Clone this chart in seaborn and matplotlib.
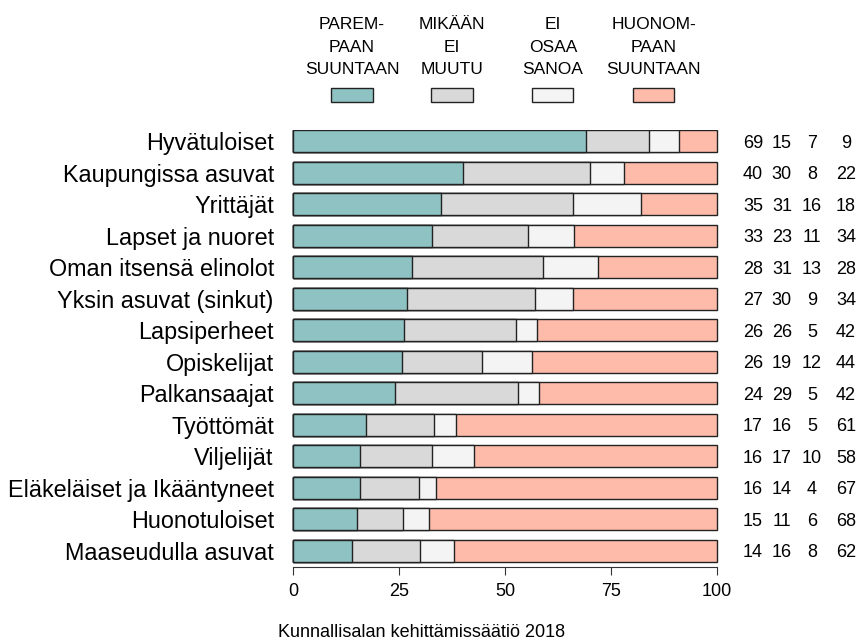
import numpy as np
import pandas as pd
import matplotlib
matplotlib.use("Agg")
import matplotlib.pyplot as plt
import matplotlib.transforms as mtransforms
from matplotlib.patches import Rectangle
import seaborn as sns

categories = ["Hyvätuloiset", "Kaupungissa asuvat", "Yrittäjät", "Lapset ja nuoret",
              "Oman itsensä elinolot", "Yksin asuvat (sinkut)", "Lapsiperheet",
              "Opiskelijat", "Palkansaajat", "Työttömät", "Viljelijät",
              "Eläkeläiset ja Ikääntyneet", "Huonotuloiset", "Maaseudulla asuvat"]
better = [69, 40, 35, 33, 28, 27, 26, 26, 24, 17, 16, 16, 15, 14]
same = [15, 30, 31, 23, 31, 30, 26, 19, 29, 16, 17, 14, 11, 16]
dont_know = [7, 8, 16, 11, 13, 9, 5, 12, 5, 5, 10, 4, 6, 8]
worse = [9, 22, 18, 34, 28, 34, 42, 44, 42, 61, 58, 67, 68, 62]

series_labels = ["PAREM-\nPAAN\nSUUNTAAN", "MIKÄÄN\nEI\nMUUTU", "EI\nOSAA\nSANOA",
                 "HUONOM-\nPAAN\nSUUNTAAN"]
colors = ["#8FC2C2", "#D9D9D9", "#F4F4F4", "#FFBBAA"]
caption = "Kunnallisalan kehittämissäätiö 2018"

sns.set_theme(style="white")
plt.rcParams["font.family"] = ["Liberation Sans", "DejaVu Sans"]

W, H = 864, 642
fig = plt.figure(figsize=(W / 100, H / 100), dpi=100)
ax = fig.add_axes([288.76 / W, (H - 567) / H, 432.5 / W, (567 - 130) / H])

vals = np.array([better, same, dont_know, worse], dtype=float)
norm = vals / vals.sum(axis=0) * 100
cum = np.cumsum(norm, axis=0)
df = pd.DataFrame({"cat": categories})
for k in range(4):
    df[f"c{k}"] = cum[k]

edge = "#222222"
for k in range(3, -1, -1):
    sns.barplot(data=df, x=f"c{k}", y="cat", color=colors[k], saturation=1,
                width=0.7, edgecolor=edge, linewidth=1.0, orient="h",
                errorbar=None, ax=ax)

ax.set_xlim(-1, 101)
ax.set_ylim(13.51, -0.35)
ax.set_xlabel("")
ax.set_ylabel("")
for s in ["top", "right", "left"]:
    ax.spines[s].set_visible(False)
ax.spines["bottom"].set_bounds(0, 100)
ax.spines["bottom"].set_color("#333333")
ax.spines["bottom"].set_linewidth(0.8)
ax.set_xticks([0, 25, 50, 75, 100])
ax.tick_params(axis="x", length=5.76, width=0.8, color="#333333", pad=5.5,
               labelsize=13, labelcolor="black", bottom=True)
ax.tick_params(axis="y", length=0, pad=10.8, labelsize=16.8, labelcolor="black")

# right-hand value columns
col_x = [108.5, 115.3, 122.4, 130.4]
for i in range(len(categories)):
    for k, arr in enumerate([better, same, dont_know, worse]):
        ax.text(col_x[k], i, str(arr[i]), ha="center", va="center_baseline",
                fontsize=13, color="black", clip_on=False)

# legend
trans = mtransforms.blended_transform_factory(ax.transData, fig.transFigure)
leg_x = [13.9, 37.5, 61.3, 85.1]
box_w = 9.7
line_base = [29, 51.5, 74]
for k in range(4):
    ax.add_patch(Rectangle((leg_x[k] - box_w / 2, 1 - 102 / H), box_w, 14 / H,
                           transform=trans, facecolor=colors[k], edgecolor=edge,
                           linewidth=1.0, clip_on=False))
    for j, line in enumerate(series_labels[k].split("\n")):
        ax.text(leg_x[k], 1 - line_base[j] / H, line, transform=trans,
                ha="center", va="baseline", fontsize=12.5, color="black")

fig.text(422 / W, 1 - 637 / H, caption, ha="center", va="baseline",
         fontsize=13, color="black")

fig.savefig("out.png", dpi=100)
